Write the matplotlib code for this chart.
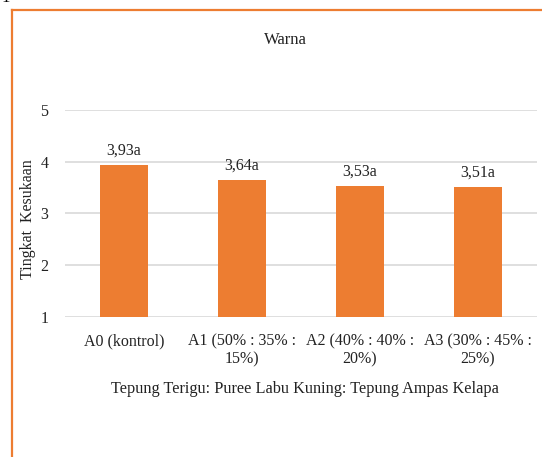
import matplotlib
matplotlib.use("Agg")
import matplotlib.pyplot as plt
from matplotlib.lines import Line2D

categories = ["A0 (kontrol)", "A1 (50% : 35% :\n15%)", "A2 (40% : 40% :\n20%)", "A3 (30% : 45% :\n25%)"]
values = [3.93, 3.64, 3.53, 3.51]
notation = ["a", "a", "a", "a"]
yticks = [1, 2, 3, 4, 5]

title = "Warna"
xlabel = "Tepung Terigu: Puree Labu Kuning: Tepung Ampas Kelapa"
ylabel = "Tingkat  Kesukaan"

plt.rcParams["font.family"] = ["Liberation Serif", "DejaVu Serif"]

W, H = 542, 457
fig = plt.figure(figsize=(W / 100, H / 100), dpi=100)
ax = fig.add_axes([65 / W, 1 - 317 / H, (537 - 65) / W, (317 - 110) / H])

orange = "#ED7D31"
x = list(range(len(categories)))
ax.bar(x, values, width=0.4, color=orange, zorder=3)

for xi, v, n in zip(x, values, notation):
    label = f"{v:.2f}".replace(".", ",") + n
    ax.annotate(label, (xi, v), xytext=(0, 4.5), textcoords="offset points",
                ha="center", va="bottom", fontsize=11.5, color="#222222")

ax.set_xlim(-0.5, len(categories) - 0.5)
ax.set_ylim(1, 5)
ax.set_yticks(yticks)
ax.set_xticks(x)
ax.set_xticklabels(categories, fontsize=11.5, linespacing=1.15)
ax.tick_params(axis="y", labelsize=11.5, length=0, pad=12, labelcolor="#222222")
ax.tick_params(axis="x", length=0, pad=12, labelcolor="#222222")
ax.grid(axis="y", color="#d9d9d9", linewidth=1.2, zorder=0)
for s in ax.spines.values():
    s.set_visible(False)

fig.text(285 / W, 1 - 40 / H, title, ha="center", va="center", fontsize=12, color="#222222")
fig.text(305 / W, 1 - 389 / H, xlabel, ha="center", va="center", fontsize=11.7, color="#222222")
fig.text(28 / W, 1 - 219 / H, ylabel, ha="center", va="center", rotation=90, fontsize=11.5,
         color="#222222")

# frame around the chart area
fig.add_artist(Line2D([12 / W, 12 / W], [0, 1 - 10 / H], color=orange, linewidth=1.6))
fig.add_artist(Line2D([12 / W, 1], [1 - 10 / H, 1 - 10 / H], color=orange, linewidth=1.6))

# page number peeking above the frame
fig.text(6 / W, 1 - 2 / H, "1", ha="center", va="baseline", fontsize=12)

fig.savefig("out.png", dpi=100)
